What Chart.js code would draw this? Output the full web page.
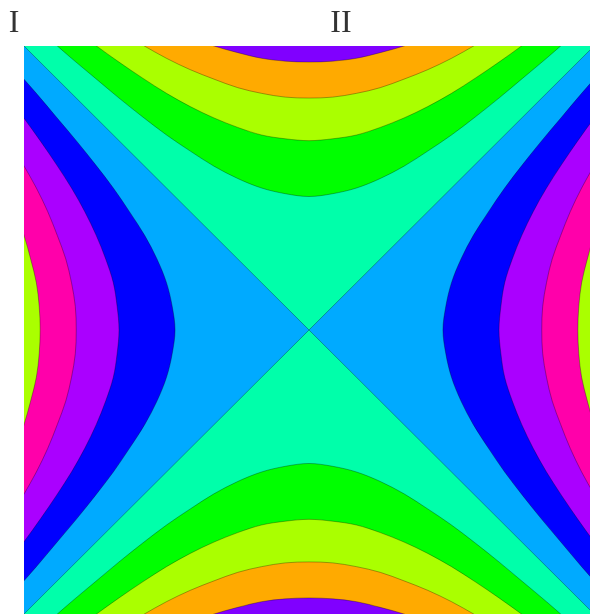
<!DOCTYPE html>
<html>
<head>
<meta charset="utf-8">
<script src="https://cdn.jsdelivr.net/npm/chart.js@4.4.1/dist/chart.umd.min.js"></script>
<style>
  html, body { margin: 0; padding: 0; background: #fff; overflow: hidden; width: 590px; height: 614px; }
  #wrap { position: absolute; left: 0; top: 0; width: 594px; height: 614px; }
  .lbl { position: absolute; top: 5px; font-family: "Liberation Serif", serif; font-size: 32px; line-height: 32px; color: #333; text-align: center; }
</style>
</head>
<body>
<div id="wrap"><canvas id="chart"></canvas></div>
<div class="lbl" style="left:0;width:28px">I</div>
<div class="lbl" style="left:311px;width:60px">II</div>
<script>
// position along a branch (data units, same for every side)
var offsets = [-3, -2.75, -2.5, -2.25, -2, -1.75, -1.5, -1.25, -1, -0.75, -0.5, -0.25, 0,
               0.25, 0.5, 0.75, 1, 1.25, 1.5, 1.75, 2, 2.25, 2.5, 2.75, 3];

// distance of each contour from the centre line
var level0 = [3, 2.75, 2.5, 2.25, 2, 1.75, 1.5, 1.25, 1, 0.75, 0.5, 0.25, 0,
              0.25, 0.5, 0.75, 1, 1.25, 1.5, 1.75, 2, 2.25, 2.5, 2.75, 3];
var level2 = [3.32, 3.09, 2.87, 2.66, 2.45, 2.25, 2.06, 1.89, 1.73, 1.60, 1.50, 1.44, 1.41,
              1.44, 1.50, 1.60, 1.73, 1.89, 2.06, 2.25, 2.45, 2.66, 2.87, 3.09, 3.32];
var level4 = [3.61, 3.40, 3.20, 3.01, 2.83, 2.66, 2.50, 2.36, 2.24, 2.14, 2.06, 2.02, 2.00,
              2.02, 2.06, 2.14, 2.24, 2.36, 2.50, 2.66, 2.83, 3.01, 3.20, 3.40, 3.61];
var level6 = [3.87, 3.68, 3.50, 3.33, 3.16, 3.01, 2.87, 2.75, 2.65, 2.56, 2.50, 2.46, 2.45,
              2.46, 2.50, 2.56, 2.65, 2.75, 2.87, 3.01, 3.16, 3.33, 3.50, 3.68, 3.87];
var level8 = [4.12, 3.95, 3.77, 3.61, 3.46, 3.33, 3.20, 3.09, 3.00, 2.93, 2.87, 2.84, 2.83,
              2.84, 2.87, 2.93, 3.00, 3.09, 3.20, 3.33, 3.46, 3.61, 3.77, 3.95, 4.12];

// colours of the bands
var baseColor = '#00ffaa';                                              // between 0 and +2
var aboveColors = ['#00ff00', '#aaff00', '#ffaa00', '#8000ff'];         // top / bottom, past +2 +4 +6 +8
var besideColors = ['#00aaff', '#0000ff', '#aa00ff', '#ff00aa', '#aaff00']; // left / right, past 0 -2 -4 -6 -8

var lineColor = 'rgba(0, 0, 0, 0.3)';

var datasets = [];
var order = 100;

function band(points, axis, fill, color, smooth, border) {
  datasets.push({
    data: points,
    indexAxis: axis,
    fill: fill,
    backgroundColor: color,
    borderColor: border ? lineColor : 'rgba(0,0,0,0)',
    borderWidth: border ? 1 : 0,
    pointRadius: 0,
    tension: smooth ? 0.4 : 0,
    cubicInterpolationMode: smooth ? 'monotone' : 'default',
    order: order--
  });
}

// background band
band([{x: -3, y: -3}, {x: 3, y: -3}], 'x', {value: 3}, baseColor, false, false);

// top and bottom hyperbolas
[level2, level4, level6, level8].forEach(function (lvl, k) {
  band(offsets.map(function (t, i) { return {x: t, y: lvl[i]}; }), 'x', {value: 3}, aboveColors[k], true, true);
  band(offsets.map(function (t, i) { return {x: t, y: -lvl[i]}; }), 'x', {value: -3}, aboveColors[k], true, true);
});

// left and right hyperbolas
[level0, level2, level4, level6, level8].forEach(function (lvl, k) {
  band(offsets.map(function (t, i) { return {x: -lvl[i], y: t}; }), 'y', {value: -3}, besideColors[k], k > 0, true);
  band(offsets.map(function (t, i) { return {x: lvl[i], y: t}; }), 'y', {value: 3}, besideColors[k], k > 0, true);
});

var ctx = document.getElementById('chart').getContext('2d');
new Chart(ctx, {
  type: 'line',
  data: { datasets: datasets },
  options: {
    responsive: true,
    maintainAspectRatio: false,
    animation: false,
    layout: { padding: { left: 24, top: 46, right: 0, bottom: 0 } },
    scales: {
      x: { type: 'linear', min: -3, max: 3, display: false },
      y: { type: 'linear', min: -3, max: 3, display: false }
    },
    plugins: {
      legend: { display: false },
      tooltip: { enabled: false }
    },
    events: []
  }
});
</script>
</body>
</html>
